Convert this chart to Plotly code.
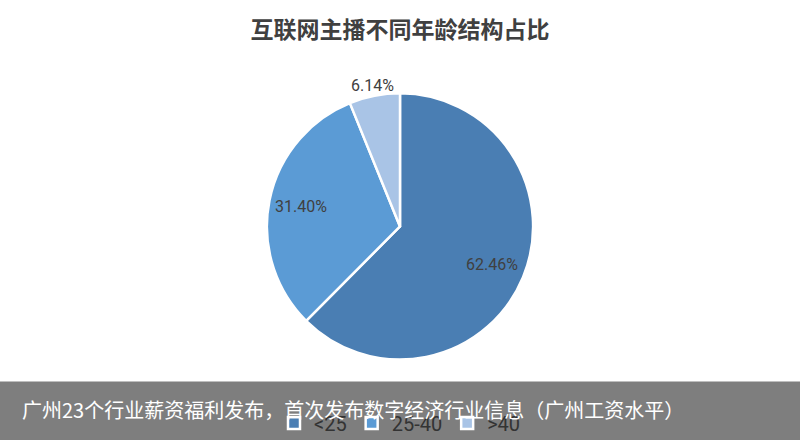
import math
import plotly.graph_objects as go

# Age groups of live-stream hosts and their share (%)
age_groups = ["<25", "25-40", ">40"]
shares = [62.46, 31.40, 6.14]
slice_colors = ["#4a7eb3", "#5b9bd5", "#a9c4e6"]

chart_title = "互联网主播不同年龄结构占比"
caption = "广州23个行业薪资福利发布，首次发布数字经济行业信息（广州工资水平）"

label_font = "Roboto, sans-serif"
cjk_font = "Noto Sans CJK SC, sans-serif"

W, H = 800, 443
# pie geometry in pixels
cx, cy, radius = 400, 228, 134
# radial placement of each value label, as a fraction of the radius
label_radius = [0.74, 0.75, 1.08]

fig = go.Figure(
    go.Pie(
        labels=age_groups,
        values=shares,
        textinfo="none",
        marker=dict(colors=slice_colors, line=dict(color="#ffffff", width=2.5)),
        sort=False,
        direction="clockwise",
        rotation=0,
        showlegend=True,
        domain=dict(
            x=[(cx - radius) / W, (cx + radius) / W],
            y=[1 - (cy + radius) / H, 1 - (cy - radius) / H],
        ),
    )
)

# value labels placed along each slice's bisector
annotations = []
total = sum(shares)
start = 0.0
for value, frac in zip(shares, label_radius):
    mid = (start + value / 2) / total * 2 * math.pi
    start += value
    px = cx + math.sin(mid) * radius * frac
    py = cy - math.cos(mid) * radius * frac
    annotations.append(
        dict(
            text=f"{value:.2f}%",
            xref="paper",
            yref="paper",
            x=px / W,
            y=1 - py / H,
            xanchor="center",
            yanchor="middle",
            showarrow=False,
            font=dict(family=label_font, size=16, color="#404040"),
        )
    )

annotations.append(
    dict(
        text=caption,
        xref="paper",
        yref="paper",
        x=20 / W,
        xanchor="left",
        y=1 - 412 / H,
        yanchor="middle",
        showarrow=False,
        font=dict(family=cjk_font, size=20, color="#ffffff"),
    )
)

fig.update_layout(
    width=W,
    height=H,
    margin=dict(l=0, r=0, t=0, b=0),
    paper_bgcolor="#ffffff",
    plot_bgcolor="#ffffff",
    title=dict(
        text="<b>" + chart_title + "</b>",
        x=0.5,
        xanchor="center",
        y=1 - 30 / H,
        yanchor="middle",
        font=dict(family=cjk_font, size=23, color="#404040"),
    ),
    legend=dict(
        orientation="h",
        x=0.5,
        xanchor="center",
        y=1 - 426 / H,
        yanchor="middle",
        font=dict(family=label_font, size=20, color="#333333"),
        itemwidth=30,
        bgcolor="rgba(0,0,0,0)",
        traceorder="normal",
    ),
    shapes=[
        dict(
            type="rect",
            xref="paper",
            yref="paper",
            x0=0,
            x1=1,
            y0=0,
            y1=1 - 384 / H,
            fillcolor="rgba(122,122,122,0.97)",
            line=dict(width=0),
            layer="above",
        )
    ],
    annotations=annotations,
)

fig.write_html("out.html")
